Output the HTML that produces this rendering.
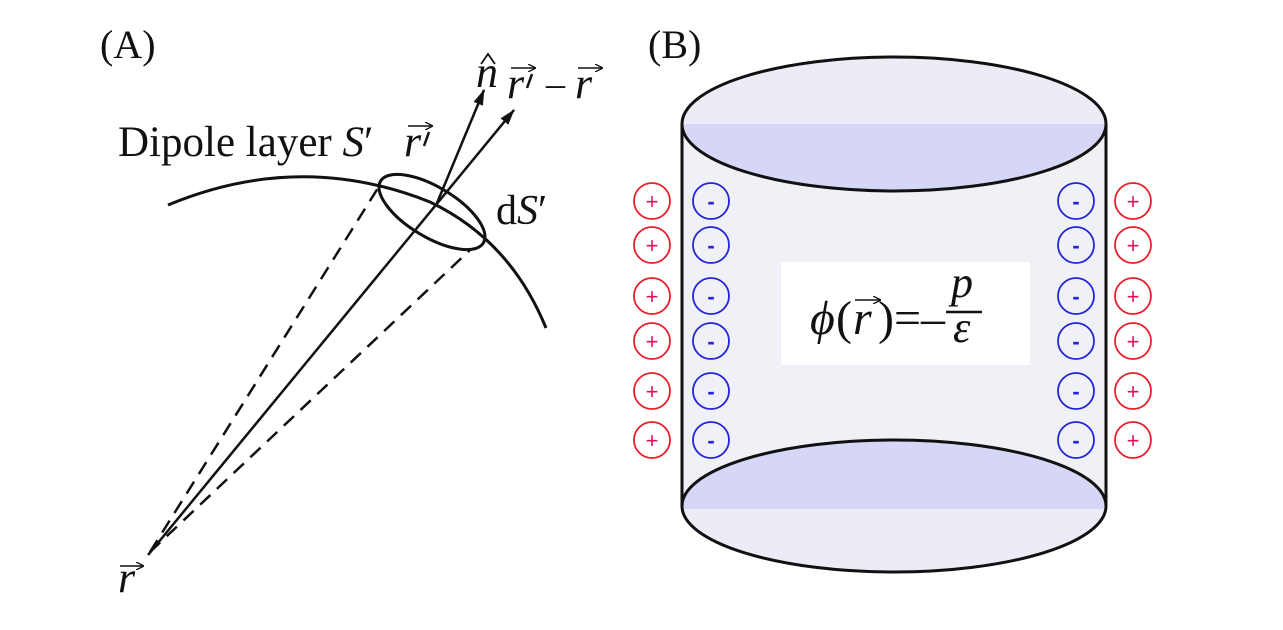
<!DOCTYPE html>
<html><head><meta charset="utf-8"><style>
html,body{margin:0;padding:0;background:#fff;}
svg{display:block;}
text{font-family:"Liberation Serif",serif;fill:#111;}
</style></head><body>
<svg width="1283" height="630" viewBox="0 0 1283 630" xmlns="http://www.w3.org/2000/svg">
<defs>
<marker id="ah" markerWidth="16" markerHeight="12" refX="15" refY="6" orient="auto" markerUnits="userSpaceOnUse" viewBox="0 0 16 12">
<path d="M0,1 L16,6 L0,11 Z" fill="#111"/></marker>
<marker id="sa" markerWidth="8" markerHeight="8" refX="7" refY="4" orient="auto" markerUnits="userSpaceOnUse" viewBox="0 0 8 8">
<path d="M0,0 L8,4 L0,8" fill="none" stroke="#111" stroke-width="1.3"/></marker>
<clipPath id="topE"><ellipse cx="894" cy="124" rx="212" ry="67"/></clipPath>
<clipPath id="botE"><ellipse cx="894" cy="506" rx="212" ry="66"/></clipPath>
</defs>
<!-- Panel A -->
<text x="100" y="58" font-size="40">(A)</text>
<text x="118" y="156" font-size="43">Dipole layer <tspan font-style="italic">S</tspan>′</text>
<path d="M168,205 Q300,150 430,202 Q510,240 546,328" fill="none" stroke="#111" stroke-width="3"/>
<ellipse cx="432" cy="212" rx="60" ry="25" transform="rotate(31 432 212)" fill="none" stroke="#111" stroke-width="3"/>
<line x1="150" y1="552" x2="378" y2="188" stroke="#111" stroke-width="2.5" stroke-dasharray="14,9"/>
<line x1="150" y1="552" x2="470" y2="250" stroke="#111" stroke-width="2.5" stroke-dasharray="14,9"/>
<line x1="148" y1="555" x2="514" y2="110" stroke="#111" stroke-width="2.5" marker-end="url(#ah)"/>
<line x1="437" y1="203" x2="484" y2="90" stroke="#111" stroke-width="2.5" marker-end="url(#ah)"/>
<!-- r' label -->
<text x="404" y="156" font-size="44" font-style="italic">r</text>
<line x1="408" y1="126" x2="432" y2="126" stroke="#111" stroke-width="1.5" marker-end="url(#sa)"/>
<path d="M429,132 L424,146" stroke="#111" stroke-width="2.5"/>
<!-- n hat -->
<text x="476" y="87" font-size="44" font-style="italic">n</text>
<path d="M481,64 L488,54 L495,64" fill="none" stroke="#111" stroke-width="1.8"/>
<!-- r' - r -->
<text x="507" y="98" font-size="44" font-style="italic">r</text>
<line x1="511" y1="68" x2="535" y2="68" stroke="#111" stroke-width="1.5" marker-end="url(#sa)"/>
<path d="M532,74 L527,88" stroke="#111" stroke-width="2.5"/>
<text x="546" y="96" font-size="38">–</text>
<text x="575" y="98" font-size="44" font-style="italic">r</text>
<line x1="578" y1="68" x2="602" y2="68" stroke="#111" stroke-width="1.5" marker-end="url(#sa)"/>
<text x="496" y="224" font-size="42">d<tspan font-style="italic">S</tspan>′</text>
<!-- r -->
<text x="118" y="592" font-size="44" font-style="italic">r</text>
<line x1="120" y1="566" x2="143" y2="566" stroke="#111" stroke-width="1.5" marker-end="url(#sa)"/>
<!-- Panel B -->
<text x="648" y="58" font-size="40">(B)</text>
<rect x="682" y="124" width="424" height="382" fill="#f0f0f7"/>
<g clip-path="url(#botE)">
<rect x="680" y="438" width="430" height="140" fill="#ececf7"/>
<rect x="680" y="438" width="430" height="71" fill="#d6d7f7"/>
</g>
<ellipse cx="894" cy="506" rx="212" ry="66" fill="none" stroke="#111" stroke-width="3"/>
<line x1="682" y1="124" x2="682" y2="506" stroke="#111" stroke-width="3"/>
<line x1="1106" y1="124" x2="1106" y2="506" stroke="#111" stroke-width="3"/>
<g clip-path="url(#topE)">
<rect x="680" y="55" width="430" height="140" fill="#ececf7"/>
<rect x="680" y="124" width="430" height="70" fill="#d6d7f7"/>
</g>
<ellipse cx="894" cy="124" rx="212" ry="67" fill="none" stroke="#111" stroke-width="3"/>
<rect x="781" y="262" width="249" height="103" fill="#fff"/>
<text x="810" y="334" font-size="48" font-style="italic">ϕ</text>
<text x="836" y="334" font-size="48">(</text>
<text x="853" y="334" font-size="48" font-style="italic">r</text>
<line x1="855" y1="300" x2="880" y2="300" stroke="#111" stroke-width="1.6" marker-end="url(#sa)"/>
<text x="878" y="334" font-size="48">)=–</text>
<line x1="946" y1="312" x2="982" y2="312" stroke="#111" stroke-width="2.5"/>
<text x="951" y="297" font-size="44" font-style="italic">p</text>
<text x="953" y="342" font-size="44" font-style="italic">ε</text>
<g fill="none" stroke-width="1.8">
<g stroke="#e8202a">
<circle cx="652" cy="201" r="18"/><circle cx="652" cy="245" r="18"/><circle cx="652" cy="296" r="18"/><circle cx="652" cy="341" r="18"/><circle cx="652" cy="391" r="18"/><circle cx="652" cy="440" r="18"/>
<circle cx="1133" cy="201" r="18"/><circle cx="1133" cy="245" r="18"/><circle cx="1133" cy="296" r="18"/><circle cx="1133" cy="341" r="18"/><circle cx="1133" cy="391" r="18"/><circle cx="1133" cy="440" r="18"/>
</g>
<g stroke="#2424d8">
<circle cx="711" cy="201" r="18"/><circle cx="711" cy="245" r="18"/><circle cx="711" cy="296" r="18"/><circle cx="711" cy="341" r="18"/><circle cx="711" cy="391" r="18"/><circle cx="711" cy="440" r="18"/>
<circle cx="1076" cy="201" r="18"/><circle cx="1076" cy="245" r="18"/><circle cx="1076" cy="296" r="18"/><circle cx="1076" cy="341" r="18"/><circle cx="1076" cy="391" r="18"/><circle cx="1076" cy="440" r="18"/>
</g>
</g>
<g font-size="22" text-anchor="middle">
<text x="652" y="209" style="fill:#e0105a;font-family:Liberation Sans,sans-serif">+</text><text x="652" y="253" style="fill:#e0105a;font-family:Liberation Sans,sans-serif">+</text><text x="652" y="304" style="fill:#e0105a;font-family:Liberation Sans,sans-serif">+</text><text x="652" y="349" style="fill:#e0105a;font-family:Liberation Sans,sans-serif">+</text><text x="652" y="399" style="fill:#e0105a;font-family:Liberation Sans,sans-serif">+</text><text x="652" y="448" style="fill:#e0105a;font-family:Liberation Sans,sans-serif">+</text>
<text x="1133" y="209" style="fill:#e0105a;font-family:Liberation Sans,sans-serif">+</text><text x="1133" y="253" style="fill:#e0105a;font-family:Liberation Sans,sans-serif">+</text><text x="1133" y="304" style="fill:#e0105a;font-family:Liberation Sans,sans-serif">+</text><text x="1133" y="349" style="fill:#e0105a;font-family:Liberation Sans,sans-serif">+</text><text x="1133" y="399" style="fill:#e0105a;font-family:Liberation Sans,sans-serif">+</text><text x="1133" y="448" style="fill:#e0105a;font-family:Liberation Sans,sans-serif">+</text>
<text x="711" y="209" style="fill:#2424d8;font-family:Liberation Sans,sans-serif;font-weight:bold">-</text><text x="711" y="253" style="fill:#2424d8;font-family:Liberation Sans,sans-serif;font-weight:bold">-</text><text x="711" y="304" style="fill:#2424d8;font-family:Liberation Sans,sans-serif;font-weight:bold">-</text><text x="711" y="349" style="fill:#2424d8;font-family:Liberation Sans,sans-serif;font-weight:bold">-</text><text x="711" y="399" style="fill:#2424d8;font-family:Liberation Sans,sans-serif;font-weight:bold">-</text><text x="711" y="448" style="fill:#2424d8;font-family:Liberation Sans,sans-serif;font-weight:bold">-</text>
<text x="1076" y="209" style="fill:#2424d8;font-family:Liberation Sans,sans-serif;font-weight:bold">-</text><text x="1076" y="253" style="fill:#2424d8;font-family:Liberation Sans,sans-serif;font-weight:bold">-</text><text x="1076" y="304" style="fill:#2424d8;font-family:Liberation Sans,sans-serif;font-weight:bold">-</text><text x="1076" y="349" style="fill:#2424d8;font-family:Liberation Sans,sans-serif;font-weight:bold">-</text><text x="1076" y="399" style="fill:#2424d8;font-family:Liberation Sans,sans-serif;font-weight:bold">-</text><text x="1076" y="448" style="fill:#2424d8;font-family:Liberation Sans,sans-serif;font-weight:bold">-</text>
</g>
</svg>
</body></html>
